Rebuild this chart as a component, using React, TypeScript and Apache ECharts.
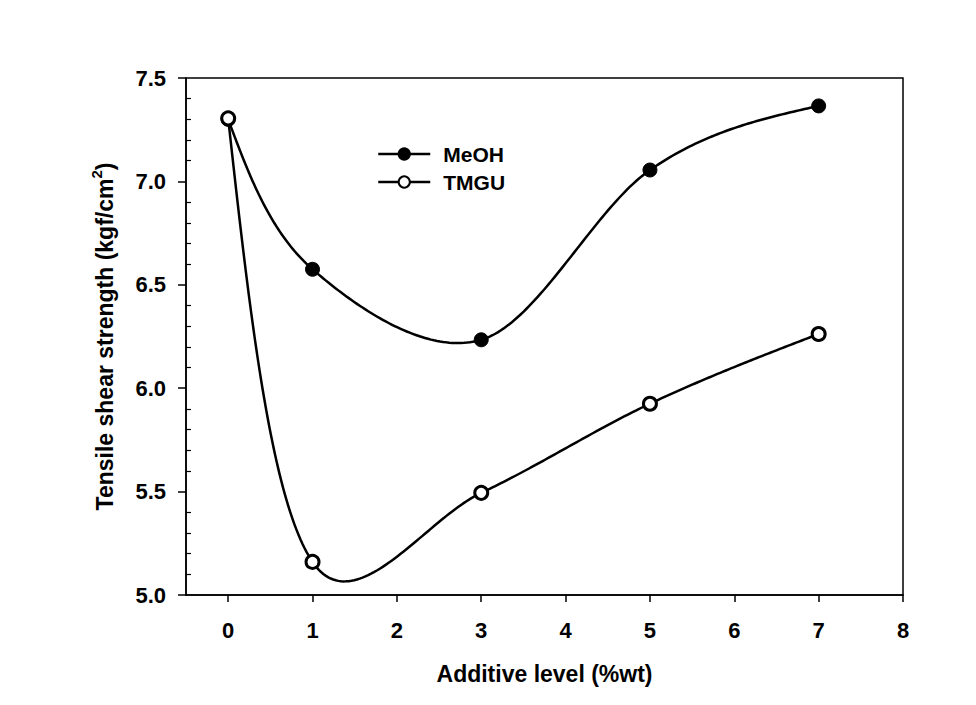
import React, { useEffect, useRef } from "react";
import * as echarts from "echarts";

const xLevels = [0, 1, 3, 5, 7];
const meohValues = [7.3, 6.575, 6.234, 7.055, 7.365];
const tmguValues = [7.305, 5.16, 5.494, 5.925, 6.262];
const xTickValues = [0, 1, 2, 3, 4, 5, 6, 7, 8];
const seriesNames = ["MeOH", "TMGU"];

const FONT = "Arial, 'Liberation Sans', sans-serif";

// Cardinal (Catmull-Rom) spline in screen space, natural ends
function hermitePath(P: number[][]) {
  const n = P.length;
  const T: number[][] = [];
  for (let i = 0; i < n; i++) {
    if (i > 0 && i < n - 1) {
      T[i] = [(P[i + 1][0] - P[i - 1][0]) / 2, (P[i + 1][1] - P[i - 1][1]) / 2];
    }
  }
  if (n > 2) {
    T[0] = [(3 * (P[1][0] - P[0][0]) - T[1][0]) / 2, (3 * (P[1][1] - P[0][1]) - T[1][1]) / 2];
    T[n - 1] = [
      (3 * (P[n - 1][0] - P[n - 2][0]) - T[n - 2][0]) / 2,
      (3 * (P[n - 1][1] - P[n - 2][1]) - T[n - 2][1]) / 2,
    ];
  } else {
    T[0] = [P[1][0] - P[0][0], P[1][1] - P[0][1]];
    T[1] = T[0];
  }
  const out: number[][] = [];
  const S = 60;
  for (let i = 0; i < n - 1; i++) {
    for (let k = 0; k <= S; k++) {
      if (i > 0 && k === 0) continue;
      const t = k / S;
      const t2 = t * t, t3 = t2 * t;
      const h00 = 2 * t3 - 3 * t2 + 1;
      const h10 = t3 - 2 * t2 + t;
      const h01 = -2 * t3 + 3 * t2;
      const h11 = t3 - t2;
      out.push([
        h00 * P[i][0] + h10 * T[i][0] + h01 * P[i + 1][0] + h11 * T[i + 1][0],
        h00 * P[i][1] + h10 * T[i][1] + h01 * P[i + 1][1] + h11 * T[i + 1][1],
      ]);
    }
  }
  return out;
}

function splineSeries(ys: number[]) {
  return {
    type: "custom",
    silent: true,
    z: 2,
    data: xLevels.map((x, i) => [x, ys[i]]),
    encode: { x: 0, y: 1 },
    renderItem: (params: any, api: any) => {
      if (params.dataIndex !== 0) return { type: "group", children: [] };
      const P = xLevels.map((x, i) => api.coord([x, ys[i]]));
      return {
        type: "polyline",
        shape: { points: hermitePath(P), smooth: 0 },
        style: { stroke: "#000", lineWidth: 2.5, fill: null },
      };
    },
  };
}

export default function App() {
  const ref = useRef<HTMLDivElement>(null);
  useEffect(() => {
    if (!ref.current) return;
    const chart = echarts.init(ref.current, null, { renderer: "svg" });
    const axisText = { color: "#000", fontFamily: FONT, fontWeight: "bold" as const, fontSize: 22 };
    chart.setOption({
      animation: false,
      backgroundColor: "#fff",
      grid: {
        left: 186,
        top: 78,
        right: 73,
        bottom: 110,
        show: true,
        borderColor: "#000",
        borderWidth: 1.5,
        backgroundColor: "transparent",
      },
      legend: {
        orient: "vertical",
        left: 377,
        top: 143,
        padding: 0,
        itemWidth: 52,
        itemHeight: 14,
        itemGap: 6,
        selectedMode: false,
        data: seriesNames,
        lineStyle: { width: 2.5, color: "#000", opacity: 1 },
        textStyle: {
          color: "#000",
          fontFamily: FONT,
          fontWeight: "bold",
          fontSize: 21,
          lineHeight: 22,
          padding: [0, 0, 0, 8],
        },
      },
      xAxis: {
        type: "value",
        min: -0.5,
        max: 8,
        name: "Additive level (%wt)",
        nameLocation: "middle",
        nameGap: 67,
        nameTextStyle: { color: "#000", fontFamily: FONT, fontWeight: "bold", fontSize: 23 },
        axisLine: { show: true, onZero: false, lineStyle: { color: "#000", width: 1.5 } },
        axisTick: { show: true, length: 7, lineStyle: { color: "#000", width: 1.5 }, customValues: xTickValues },
        axisLabel: { ...axisText, margin: 24, customValues: xTickValues },
        splitLine: { show: false },
      },
      yAxis: [
        {
          type: "value",
          min: 5,
          max: 7.5,
          interval: 0.5,
          name: "{a|Tensile shear strength (kgf/cm}{s|2}{a|)}",
          nameLocation: "middle",
          nameGap: 70,
          nameRotate: 90,
          nameTextStyle: {
            color: "#000",
            fontFamily: FONT,
            fontWeight: "bold",
            fontSize: 23,
            rich: {
              a: { color: "#000", fontFamily: FONT, fontWeight: "bold", fontSize: 23, lineHeight: 27, verticalAlign: "bottom" },
              s: { color: "#000", fontFamily: FONT, fontWeight: "bold", fontSize: 15, lineHeight: 15, verticalAlign: "top" },
            },
          },
          axisLine: { show: true, onZero: false, lineStyle: { color: "#000", width: 1.5 } },
          axisTick: { show: true, length: 8, lineStyle: { color: "#000", width: 1.5 } },
          axisLabel: { ...axisText, margin: 20, formatter: (v: number) => v.toFixed(1) },
          splitLine: { show: false },
        },
        {
          type: "value",
          min: 5,
          max: 7.5,
          interval: 0.5,
          position: "left",
          axisLine: { show: false, onZero: false },
          axisTick: { show: false, inside: true },
          axisLabel: { show: false },
          minorTick: { show: true, splitNumber: 5, length: 5, lineStyle: { color: "#000", width: 1.2 } },
          splitLine: { show: false },
        },
      ],
      series: [
        splineSeries(meohValues),
        splineSeries(tmguValues),
        {
          name: seriesNames[0],
          type: "line",
          z: 5,
          data: xLevels.map((x, i) => [x, meohValues[i]]),
          symbol: "circle",
          symbolSize: 14,
          lineStyle: { width: 0, opacity: 0 },
          itemStyle: { color: "#000", borderColor: "#000", borderWidth: 1 },
        },
        {
          name: seriesNames[1],
          type: "line",
          z: 5,
          data: xLevels.map((x, i) => [x, tmguValues[i]]),
          symbol: "circle",
          symbolSize: 13,
          lineStyle: { width: 0, opacity: 0 },
          itemStyle: { color: "#fff", borderColor: "#000", borderWidth: 3 },
        },
      ],
    });
    return () => chart.dispose();
  }, []);
  return <div ref={ref} style={{ width: 976, height: 705, position: "absolute", left: 0, top: 0 }} />;
}
